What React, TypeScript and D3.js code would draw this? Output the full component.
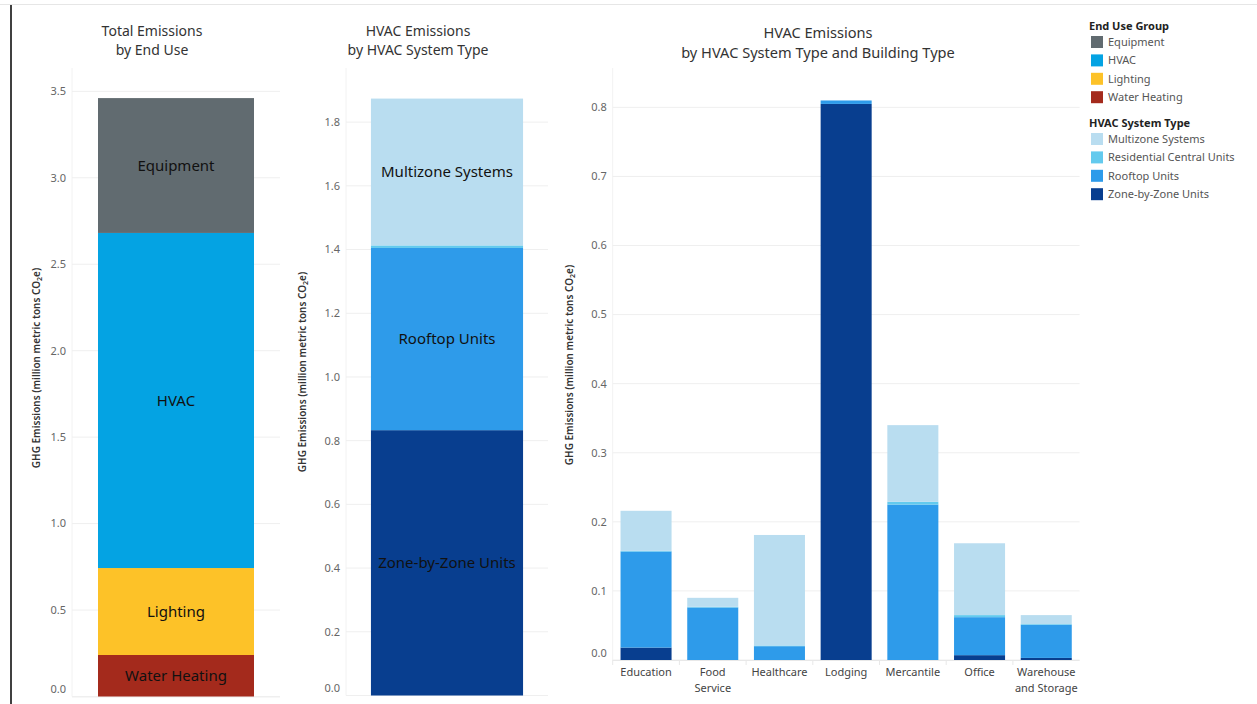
import React from "react";
import * as d3 from "d3";

const endUses = ["Water Heating", "Lighting", "HVAC", "Equipment"];
const endUseValues = [0.24, 0.503, 1.938, 0.78];
const endUseColors = ["#A42A1C", "#FDC228", "#04A3E3", "#616B70"];

const systemTypes = ["Zone-by-Zone Units", "Rooftop Units", "Residential Central Units", "Multizone Systems"];
const systemValues = [0.833, 0.572, 0.008, 0.461];
const systemColors = ["#083E8F", "#2E9BEA", "#63CAEE", "#B9DDF0"];
const systemLabels = ["Zone-by-Zone Units", "Rooftop Units", "", "Multizone Systems"];

const buildings = ["Education", "Food Service", "Healthcare", "Lodging", "Mercantile", "Office", "Warehouse and Storage"];
const buildingLabelLines = [["Education"], ["Food", "Service"], ["Healthcare"], ["Lodging"], ["Mercantile"], ["Office"], ["Warehouse", "and Storage"]];
const zoneByBuilding = [0.018, 0, 0, 0.805, 0, 0.007, 0.003];
const rooftopByBuilding = [0.139, 0.076, 0.02, 0.005, 0.225, 0.055, 0.048];
const residentialByBuilding = [0.001, 0.001, 0.001, 0, 0.004, 0.003, 0.001];
const multizoneByBuilding = [0.058, 0.013, 0.16, 0, 0.111, 0.104, 0.013];

const ticks1 = [0, 0.5, 1, 1.5, 2, 2.5, 3, 3.5];
const ticks2 = [0, 0.2, 0.4, 0.6, 0.8, 1.0, 1.2, 1.4, 1.6, 1.8];
const ticks3 = [0, 0.1, 0.2, 0.3, 0.4, 0.5, 0.6, 0.7, 0.8];

const FONT = "'Noto Sans', 'Open Sans', sans-serif";
const TOP = 68;

function YAxis({ y, ticks, x0, x1, fmt }: any) {
  return (
    <g>
      <line x1={x0} x2={x0} y1={TOP} y2={y(0)} stroke="#f2f2f2" />
      {ticks.map((t: number) => (
        <g key={t}>
          <line x1={x0} x2={x1} y1={y(t)} y2={y(t)} stroke="#efefef" />
          <text x={x0 - 6} y={t === 0 ? y(t) - 7 : y(t)} dy="0.35em" textAnchor="end" fontSize={11} fill="#666" fontFamily={FONT}>
            {fmt(t)}
          </text>
        </g>
      ))}
    </g>
  );
}

function AxisTitle({ x, yc }: any) {
  return (
    <text transform={`translate(${x},${yc}) rotate(-90)`} textAnchor="middle" fontSize={10} fontWeight={600} fill="#333" fontFamily={FONT}>
      GHG Emissions (million metric tons CO<tspan fontSize={7} dy={2}>2</tspan><tspan dy={-2}>e)</tspan>
    </text>
  );
}

export default function App() {
  const W = 1257, H = 704;
  const fmt = d3.format(".1f");

  // Panel 1
  const y1 = d3.scaleLinear().domain([0, 3.635]).range([696.5, TOP]);
  const x1 = d3.scaleBand().domain(["all"]).range([72, 280]).paddingInner(0).paddingOuter(0.1667);
  let acc1 = 0;
  const seg1 = endUseValues.map((v, i) => {
    const s = { name: endUses[i], y0: acc1, y1: acc1 + v, color: endUseColors[i] };
    acc1 += v;
    return s;
  });

  // Panel 2
  const y2 = d3.scaleLinear().domain([0, 1.97]).range([695.5, TOP]);
  const x2 = d3.scaleBand().domain(["all"]).range([346, 548]).paddingOuter(0.164);
  let acc2 = 0;
  const seg2 = systemValues.map((v, i) => {
    const s = { name: systemLabels[i], y0: acc2, y1: acc2 + v, color: systemColors[i] };
    acc2 += v;
    return s;
  });

  // Panel 3
  const y3 = d3.scaleLinear().domain([0, 0.857]).range([660, TOP]);
  const x3 = d3.scaleBand().domain(buildings).range([612.7, 1079.6]).paddingInner(0.235).paddingOuter(0.1175);
  const stackData = buildings.map((b, i) => ({
    building: b,
    zone: zoneByBuilding[i],
    rooftop: rooftopByBuilding[i],
    residential: residentialByBuilding[i],
    multizone: multizoneByBuilding[i],
  }));
  const keys = ["zone", "rooftop", "residential", "multizone"];
  const stacked = d3.stack<any>().keys(keys)(stackData);

  return (
    <svg width={W} height={H} viewBox={`0 0 ${W} ${H}`} style={{ display: "block", position: "absolute", left: 0, top: 0 }}>
      <rect x={0} y={0} width={W} height={H} fill="#fff" />
      <line x1={0} x2={W} y1={4.5} y2={4.5} stroke="#e6e6e6" />
      <line x1={11} x2={11} y1={5} y2={H} stroke="#000" strokeWidth={1.5} />

      {/* Panel 1 */}
      <text x={152} y={36} textAnchor="middle" fontSize={14} fill="#333" fontFamily={FONT}>Total Emissions</text>
      <text x={152} y={55} textAnchor="middle" fontSize={14} fill="#333" fontFamily={FONT}>by End Use</text>
      <YAxis y={y1} ticks={ticks1} x0={72} x1={280} fmt={fmt} />
      <line x1={72} x2={280} y1={697} y2={697} stroke="#efefef" />
      <AxisTitle x={40} yc={368} />
      {seg1.map((s) => (
        <g key={s.name}>
          <rect x={x1("all")} width={x1.bandwidth()} y={y1(s.y1)} height={y1(s.y0) - y1(s.y1)} fill={s.color} />
          <text x={(x1("all") as number) + x1.bandwidth() / 2} y={(y1(s.y0) + y1(s.y1)) / 2} dy="0.35em" textAnchor="middle" fontSize={15} fill="#111" fontFamily={FONT}>
            {s.name}
          </text>
        </g>
      ))}

      {/* Panel 2 */}
      <text x={418} y={36} textAnchor="middle" fontSize={14} fill="#333" fontFamily={FONT}>HVAC Emissions</text>
      <text x={418} y={55} textAnchor="middle" fontSize={14} fill="#333" fontFamily={FONT}>by HVAC System Type</text>
      <YAxis y={y2} ticks={ticks2} x0={346} x1={548} fmt={fmt} />
      <AxisTitle x={306} yc={372} />
      {seg2.map((s, i) => (
        <g key={i}>
          <rect x={x2("all")} width={x2.bandwidth()} y={y2(s.y1)} height={y2(s.y0) - y2(s.y1)} fill={s.color} />
          {s.name && (
            <text x={(x2("all") as number) + x2.bandwidth() / 2} y={(y2(s.y0) + y2(s.y1)) / 2} dy="0.35em" textAnchor="middle" fontSize={15} fill="#111" fontFamily={FONT}>
              {s.name}
            </text>
          )}
        </g>
      ))}

      {/* Panel 3 */}
      <text x={818} y={38} textAnchor="middle" fontSize={14.6} fill="#333" fontFamily={FONT}>HVAC Emissions</text>
      <text x={818} y={58} textAnchor="middle" fontSize={14.6} fill="#333" fontFamily={FONT}>by HVAC System Type and Building Type</text>
      <YAxis y={y3} ticks={ticks3} x0={612.7} x1={1079.6} fmt={fmt} />
      <AxisTitle x={573} yc={365} />
      <line x1={612.7} x2={1079.6} y1={660.5} y2={660.5} stroke="#e8e8e8" />
      {buildings.map((b, i) => (
        <line key={b} x1={612.7 + i * x3.step()} x2={612.7 + i * x3.step()} y1={660} y2={665} stroke="#e8e8e8" />
      ))}
      {stacked.map((layer, li) =>
        layer.map((d, i) => (
          <rect key={`${li}-${i}`} x={x3(buildings[i])} width={x3.bandwidth()} y={y3(d[1])} height={Math.max(0, y3(d[0]) - y3(d[1]))} fill={systemColors[li]} />
        ))
      )}
      {buildings.map((b, i) => (
        <text key={b} x={(x3(b) as number) + x3.bandwidth() / 2} y={676} textAnchor="middle" fontSize={11} fill="#444" fontFamily={FONT}>
          {buildingLabelLines[i].map((l, k) => (
            <tspan key={k} x={(x3(b) as number) + x3.bandwidth() / 2} dy={k === 0 ? 0 : 16}>{l}</tspan>
          ))}
        </text>
      ))}

      {/* Legend */}
      <text x={1089} y={30} fontSize={11} fontWeight={700} fill="#222" fontFamily={FONT}>End Use Group</text>
      {["Equipment", "HVAC", "Lighting", "Water Heating"].map((n, i) => (
        <g key={n}>
          <rect x={1091} y={36 + i * 18.4} width={12} height={12} fill={endUseColors[endUses.indexOf(n)]} />
          <text x={1108} y={42 + i * 18.4} dy="0.35em" fontSize={11} fill="#555" fontFamily={FONT}>{n}</text>
        </g>
      ))}
      <text x={1089} y={127} fontSize={11} fontWeight={700} fill="#222" fontFamily={FONT}>HVAC System Type</text>
      {["Multizone Systems", "Residential Central Units", "Rooftop Units", "Zone-by-Zone Units"].map((n, i) => (
        <g key={n}>
          <rect x={1091} y={133 + i * 18.4} width={12} height={12} fill={systemColors[systemTypes.indexOf(n)]} />
          <text x={1108} y={139 + i * 18.4} dy="0.35em" fontSize={11} fill="#555" fontFamily={FONT}>{n}</text>
        </g>
      ))}
    </svg>
  );
}
